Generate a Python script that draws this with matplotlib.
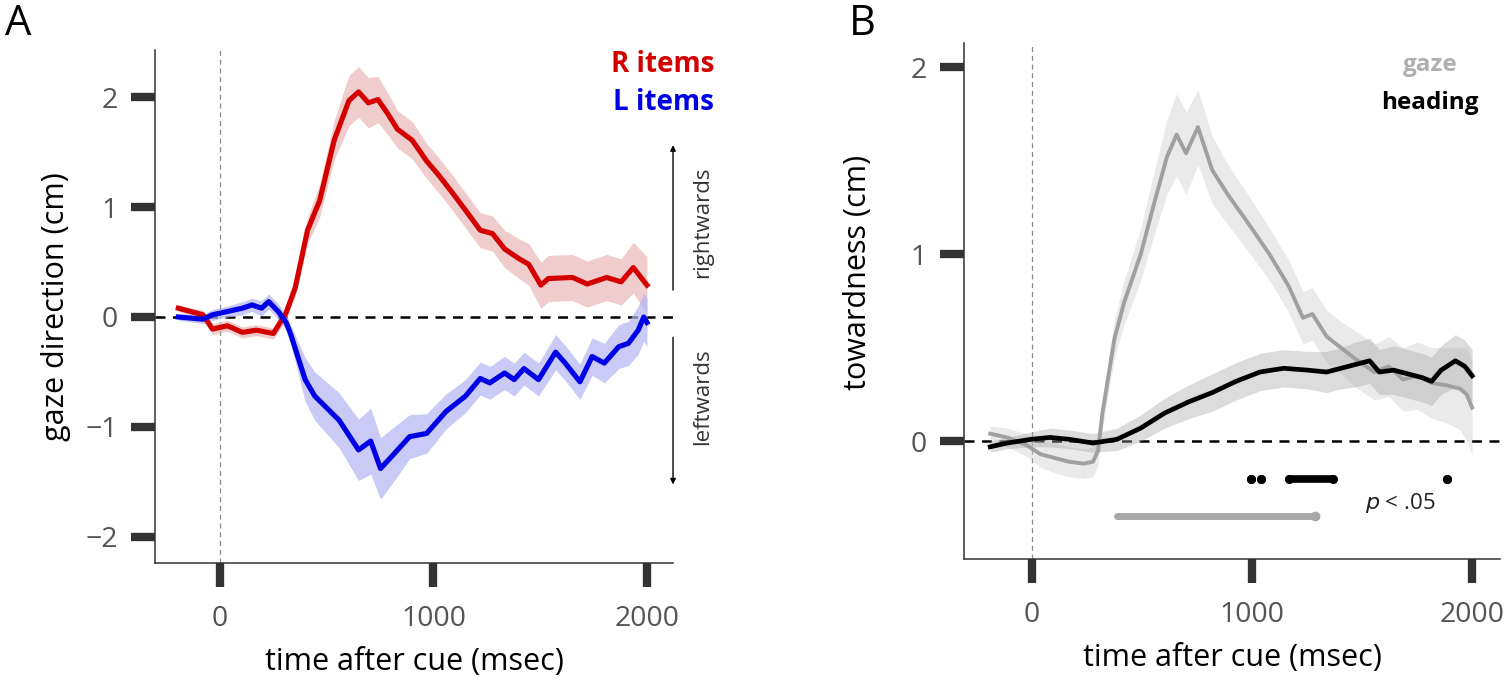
# gaze / heading time courses, two panels

import matplotlib
matplotlib.use("Agg")
from matplotlib import pyplot as plt
import numpy as np

plt.rcParams['font.family'] = ['Open Sans', 'DejaVu Sans']

# panel A: R items (red)
r_t = [-195, -80, -35, 35, 105, 170, 250, 308, 353, 410, 467, 535, 604, 649, 695, 740, 786, 831,
       900, 968, 1025, 1093, 1162, 1219, 1276, 1333, 1401, 1446, 1503, 1538, 1651, 1720, 1811,
       1879, 1936, 2000]
r_y = [0.08, 0.02, -0.11, -0.08, -0.14, -0.12, -0.15, 0.03, 0.27, 0.79, 1.06, 1.61, 1.97, 2.05,
       1.95, 1.98, 1.85, 1.71, 1.61, 1.42, 1.29, 1.12, 0.94, 0.79, 0.76, 0.62, 0.53, 0.48, 0.29,
       0.35, 0.36, 0.30, 0.36, 0.32, 0.45, 0.29]
r_sem = [0.03, 0.04, 0.05, 0.05, 0.05, 0.05, 0.05, 0.06, 0.08, 0.12, 0.15, 0.18, 0.23, 0.23,
         0.23, 0.21, 0.19, 0.17, 0.17, 0.16, 0.16, 0.16, 0.16, 0.16, 0.16, 0.17, 0.18, 0.19, 0.21,
         0.21, 0.21, 0.21, 0.21, 0.21, 0.23, 0.26]

# panel A: L items (blue)
b_t = [-195, -80, -35, 35, 105, 150, 195, 228, 273, 310, 330, 399, 444, 558, 649, 706, 752, 809,
       888, 968, 1059, 1150, 1219, 1264, 1333, 1378, 1424, 1492, 1572, 1617, 1686, 1743, 1800,
       1868, 1913, 1959, 1985, 2000]
b_y = [0.0, -0.02, 0.02, 0.05, 0.08, 0.11, 0.08, 0.14, 0.05, -0.05, -0.15, -0.57, -0.72, -0.94,
       -1.21, -1.13, -1.38, -1.26, -1.09, -1.06, -0.86, -0.72, -0.56, -0.60, -0.51, -0.57, -0.47,
       -0.57, -0.32, -0.42, -0.59, -0.36, -0.42, -0.27, -0.24, -0.12, 0.0, -0.05]
b_sem = [0.03, 0.04, 0.05, 0.05, 0.06, 0.06, 0.07, 0.07, 0.07, 0.07, 0.08, 0.2, 0.22, 0.25, 0.28,
         0.3, 0.28, 0.25, 0.2, 0.18, 0.16, 0.15, 0.15, 0.15, 0.15, 0.15, 0.15, 0.15, 0.16, 0.16,
         0.16, 0.17, 0.18, 0.2, 0.2, 0.22, 0.22, 0.22]

# panel B: gaze (light gray)
g_t = [-190, -113, -26, 39, 104, 169, 234, 277, 300, 320, 375, 418, 494, 559, 613, 657, 700, 754,
       819, 895, 992, 1079, 1166, 1231, 1274, 1339, 1404, 1469, 1556, 1621, 1686, 1750, 1820,
       1881, 1946, 1975, 2000]
g_y = [0.04, 0.02, -0.02, -0.07, -0.09, -0.11, -0.12, -0.11, -0.05, 0.15, 0.55, 0.74, 1.0, 1.29,
       1.52, 1.64, 1.54, 1.68, 1.45, 1.31, 1.15, 1.0, 0.83, 0.66, 0.68, 0.56, 0.5, 0.44, 0.37,
       0.4, 0.33, 0.35, 0.31, 0.30, 0.28, 0.25, 0.18]
g_sem = [0.04, 0.05, 0.06, 0.07, 0.08, 0.08, 0.08, 0.08, 0.08, 0.08, 0.1, 0.12, 0.14, 0.17, 0.2,
         0.22, 0.22, 0.2, 0.18, 0.16, 0.15, 0.14, 0.14, 0.14, 0.14, 0.14, 0.14, 0.15, 0.15, 0.16,
         0.17, 0.18, 0.19, 0.2, 0.22, 0.25, 0.25]

# panel B: heading (black)
h_t = [-190, -113, -4, 82, 169, 277, 386, 494, 602, 711, 819, 927, 1036, 1144, 1252, 1339, 1404,
       1469, 1534, 1578, 1643, 1708, 1773, 1816, 1859, 1924, 1967, 2000]
h_y = [-0.03, -0.01, 0.01, 0.02, 0.01, -0.01, 0.01, 0.07, 0.15, 0.21, 0.26, 0.32, 0.37, 0.39,
       0.38, 0.37, 0.39, 0.41, 0.43, 0.37, 0.38, 0.36, 0.34, 0.32, 0.38, 0.43, 0.40, 0.35]
h_sem = [0.03, 0.03, 0.04, 0.05, 0.05, 0.05, 0.06, 0.07, 0.08, 0.09, 0.1, 0.1, 0.1, 0.1, 0.1,
         0.11, 0.11, 0.12, 0.12, 0.12, 0.13, 0.13, 0.13, 0.13, 0.13, 0.14, 0.14, 0.14]

# significant stretches (p < .05), start/end in msec
heading_sig = [(995, 995), (1040, 1040), (1170, 1370), (1888, 1888)]
gaze_sig = [(386, 1285)]
heading_sig_y = -0.2
gaze_sig_y = -0.4

TICK_C = "#333333"


def style_axes(ax):
    for s in ["top", "right"]:
        ax.spines[s].set_visible(False)
    for s in ["left", "bottom"]:
        ax.spines[s].set_color("#333333")
        ax.spines[s].set_linewidth(1.1)
    ax.tick_params(axis="both", length=17, width=6, color=TICK_C,
                   labelsize=20.5, labelcolor="#555555")
    ax.tick_params(axis="x", pad=13)
    ax.tick_params(axis="y", pad=10)
    ax.set_xticks([0, 1000, 2000])
    ax.set_xlabel("time after cue (msec)", fontsize=22, labelpad=10)
    ax.axhline(0, color="black", ls=(0, (4, 3)), lw=1.8, zorder=1)
    ax.axvline(0, color="#888888", ls=(0, (4, 3)), lw=0.9, zorder=1)


fig = plt.figure(figsize=(15.07, 6.82), dpi=100)
axA = fig.add_axes([0.1029, 0.1745, 0.3437, 0.752])
axB = fig.add_axes([0.6397, 0.1804, 0.3557, 0.7566])

# ---- panel A
r_t, r_y, r_sem = map(np.array, (r_t, r_y, r_sem))
b_t, b_y, b_sem = map(np.array, (b_t, b_y, b_sem))
axA.fill_between(r_t, r_y - r_sem, r_y + r_sem, color="#eab8b8", alpha=0.7, lw=0, zorder=2)
axA.fill_between(b_t, b_y - b_sem, b_y + b_sem, color="#b4b4f4", alpha=0.7, lw=0, zorder=2)
axA.plot(r_t, r_y, color="#d40000", lw=3.7, zorder=3)
axA.plot(b_t, b_y, color="#0000e6", lw=3.7, zorder=3)
axA.set_xlim(-304, 2122)
axA.set_ylim(-2.24, 2.43)
axA.set_yticks([-2, -1, 0, 1, 2])
axA.set_yticklabels(["\u22122", "\u22121", "0", "1", "2"])
style_axes(axA)
axA.set_ylabel("gaze direction (cm)", fontsize=22, labelpad=10)

axA.text(0.981, 2.3, "R items", transform=axA.get_yaxis_transform(), color="#d40000",
         fontsize=20, fontweight="bold", ha="center", va="center")
axA.text(0.981, 1.95, "L items", transform=axA.get_yaxis_transform(), color="#0000e6",
         fontsize=20, fontweight="bold", ha="center", va="center")
axA.annotate("", xy=(2122, 1.59), xytext=(2122, 0.22), annotation_clip=False,
             arrowprops=dict(arrowstyle="-|>", color="black", lw=1, mutation_scale=8))
axA.annotate("", xy=(2122, -1.55), xytext=(2122, -0.16), annotation_clip=False,
             arrowprops=dict(arrowstyle="-|>", color="black", lw=1, mutation_scale=8))
axA.text(2260, 0.86, "rightwards", rotation=90, fontsize=16, color="#333333",
         ha="center", va="center", clip_on=False)
axA.text(2260, -0.73, "leftwards", rotation=90, fontsize=16, color="#333333",
         ha="center", va="center", clip_on=False)

# ---- panel B
g_t, g_y, g_sem = map(np.array, (g_t, g_y, g_sem))
h_t, h_y, h_sem = map(np.array, (h_t, h_y, h_sem))
axB.fill_between(g_t, g_y - g_sem, g_y + g_sem, color="#c4c4c4", alpha=0.35, lw=0, zorder=2)
axB.fill_between(h_t, h_y - h_sem, h_y + h_sem, color="#a8a8a8", alpha=0.4, lw=0, zorder=2)
axB.plot(g_t, g_y, color="#a0a0a0", lw=2.8, zorder=3)
axB.plot(h_t, h_y, color="black", lw=3.4, zorder=4)
for s, e in heading_sig:
    axB.plot([s, e], [heading_sig_y, heading_sig_y], color="black", lw=5.5,
             solid_capstyle="round", marker="o", ms=5.5, zorder=4)
for s, e in gaze_sig:
    axB.plot([s, e], [gaze_sig_y, gaze_sig_y], color="#a8a8a8", lw=5,
             solid_capstyle="round", zorder=4)
    axB.plot([e], [gaze_sig_y], "o", color="#a8a8a8", ms=6, zorder=4)
axB.text(1675, -0.33, r"$\it{p}$ < .05", fontsize=16, color="#222222", ha="center", va="center")
axB.set_xlim(-309, 2127)
axB.set_ylim(-0.63, 2.13)
axB.set_yticks([0, 1, 2])
style_axes(axB)
axB.set_ylabel("towardness (cm)", fontsize=22)
axB.yaxis.set_label_coords(-0.17, 0.556)

axB.text(0.869, 2.01, "gaze", transform=axB.get_yaxis_transform(), color="#b0b0b0",
         fontsize=17.5, fontweight="bold", ha="center", va="center")
axB.text(0.869, 1.81, "heading", transform=axB.get_yaxis_transform(), color="black",
         fontsize=17.5, fontweight="bold", ha="center", va="center")

fig.text(0.003, 0.965, "A", fontsize=30, va="center", ha="left")
fig.text(0.563, 0.965, "B", fontsize=30, va="center", ha="left")

fig.savefig("out.png", dpi=100)
